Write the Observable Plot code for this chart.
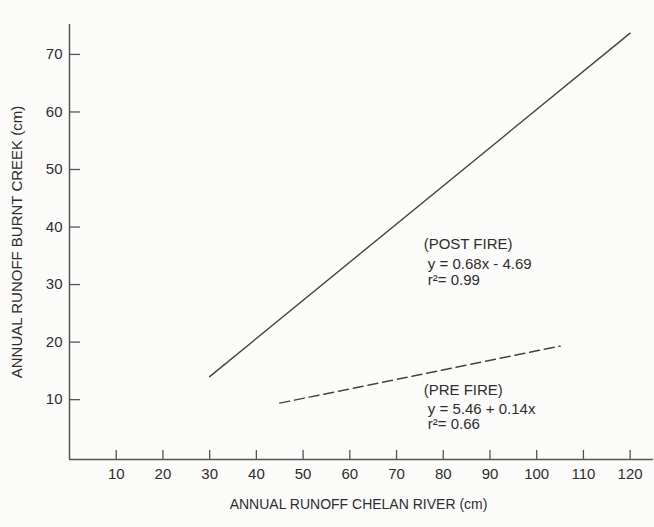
<!DOCTYPE html>
<html><head><meta charset="utf-8">
<script src="https://cdn.jsdelivr.net/npm/d3@7"></script>
<script src="https://cdn.jsdelivr.net/npm/@observablehq/plot@0.6"></script>
<style>
html,body{margin:0;padding:0;background:#fbfbf9;}
#chart svg{display:block;}
</style></head><body><div id="chart"></div>
<script>
const xTicks = [10, 20, 30, 40, 50, 60, 70, 80, 90, 100, 110, 120];
const yTicks = [10, 20, 30, 40, 50, 60, 70];
const postFireX = [30, 120];
const postFireY = [14.0, 73.7];
const preFireX = [45, 105];
const preFireY = [9.4, 19.3];
const postLabels = ["(POST FIRE)", "y = 0.68x - 4.69", "r²= 0.99"];
const postLabelX = [75.8, 76.7, 76.7];
const postLabelY = [37.1, 33.6, 30.8];
const preLabels = ["(PRE FIRE)", "y = 5.46 + 0.14x", "r²= 0.66"];
const preLabelX = [75.8, 76.7, 76.7];
const preLabelY = [11.6, 8.4, 5.7];
const xTitle = "ANNUAL RUNOFF CHELAN RIVER (cm)";
const yTitle = "ANNUAL RUNOFF BURNT CREEK (cm)";

const postFire = postFireX.map((x, i) => ({x, y: postFireY[i]}));
const preFire = preFireX.map((x, i) => ({x, y: preFireY[i]}));
const labels = [
  ...postLabels.map((t, i) => ({t, x: postLabelX[i], y: postLabelY[i]})),
  ...preLabels.map((t, i) => ({t, x: preLabelX[i], y: preLabelY[i]}))
];

const axisColor = "#555";
const textColor = "#2e2e2e";

const chart = Plot.plot({
  width: 654,
  height: 527,
  marginLeft: 69,
  marginRight: 1,
  marginTop: 24,
  marginBottom: 68,
  x: {domain: [0, 125]},
  y: {domain: [-0.4, 75.2]},
  style: {fontFamily: "'Liberation Sans', Arial, sans-serif", fontSize: "15px", color: textColor, background: "transparent"},
  marks: [
    Plot.ruleX([0], {stroke: axisColor, strokeWidth: 1.5}),
    Plot.ruleY([-0.4], {stroke: axisColor, strokeWidth: 1.5}),
    Plot.axisX({ticks: xTicks, tickSize: -9, tickFormat: () => "", stroke: axisColor, strokeWidth: 1.3, label: null}),
    Plot.axisX({ticks: xTicks, tickSize: 0, tickPadding: 9, fill: textColor, fontSize: 15, label: null}),
    Plot.axisY({ticks: yTicks, tickSize: -11, tickFormat: () => "", stroke: axisColor, strokeWidth: 1.3, label: null}),
    Plot.axisY({ticks: yTicks, tickSize: 0, tickPadding: 7, fill: textColor, fontSize: 15, label: null}),
    Plot.line(postFire, {x: "x", y: "y", stroke: "#444", strokeWidth: 1.4}),
    Plot.line(preFire, {x: "x", y: "y", stroke: "#444", strokeWidth: 1.5, strokeDasharray: "10,5"}),
    Plot.text(labels, {x: "x", y: "y", text: "t", textAnchor: "start", lineAnchor: "middle", fill: textColor, fontSize: 15}),
    Plot.text([xTitle], {frameAnchor: "bottom", dy: 49, dx: -3, textAnchor: "middle", text: d => d, fill: textColor, fontSize: 14}),
    Plot.text([yTitle], {frameAnchor: "left", dx: -52, rotate: -90, textAnchor: "middle", text: d => d, fill: textColor, fontSize: 15})
  ]
});
document.getElementById("chart").appendChild(chart);
</script>
</body></html>
